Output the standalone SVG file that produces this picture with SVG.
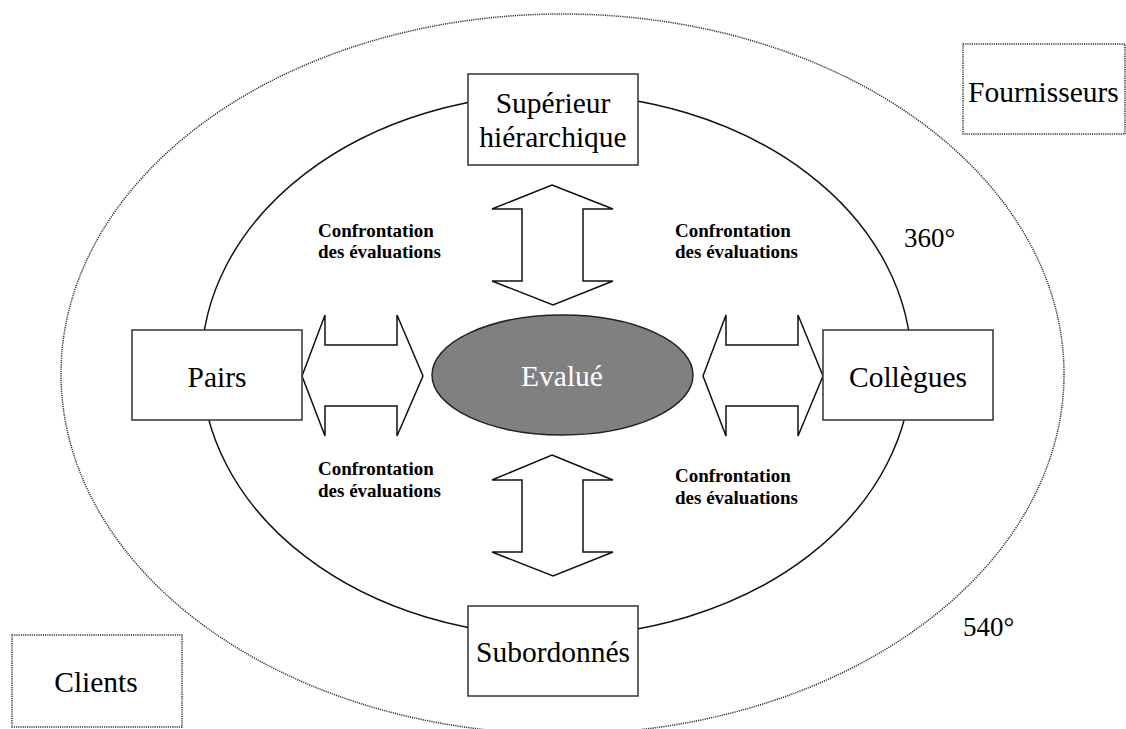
<svg xmlns="http://www.w3.org/2000/svg" width="1126" height="729" viewBox="0 0 1126 729">
<style>
.bg{fill:#ffffff}
.ring-outer{fill:none;stroke:#333;stroke-width:1.5;stroke-dasharray:1.2 1}
.ring-inner{fill:none;stroke:#111;stroke-width:1.5}
.box{fill:#fff;stroke:#333;stroke-width:1.5}
.dbox{fill:#fff;stroke:#333;stroke-width:1.5;stroke-dasharray:1.2 1}
.lbl{font-family:"Liberation Serif","Times New Roman",serif;font-size:29.5px;fill:#000;text-anchor:middle}
.deg{font-family:"Liberation Serif","Times New Roman",serif;font-size:27px;fill:#000}
.conf{font-family:"Liberation Serif","Times New Roman",serif;font-size:19px;font-weight:bold;fill:#000}
.arrow{fill:#fff;stroke:#111;stroke-width:1.5;stroke-linejoin:miter}
.center{fill:#808080;stroke:#222;stroke-width:1.5}
</style>
<rect class="bg" x="0" y="0" width="1126" height="729"/>
<ellipse class="ring-outer" cx="562.5" cy="374" rx="501.5" ry="360"/>
<ellipse class="ring-inner" cx="556.5" cy="365" rx="355" ry="271"/>
<g id="connectors">
<polygon class="arrow" points="552,185 613,209 583,209 583,281 613,281 553,305 492,281 522,281 522,209 492,209"/>
<polygon class="arrow" points="552,455 613,480 583,480 583,552 613,552 553,576 492,552 522,552 522,480 492,480"/>
<polygon class="arrow" points="302,376 325,315 325,345 397,345 397,315 423,376 397,436 397,406 325,406 325,436"/>
<polygon class="arrow" points="703,376 726,315 726,345 798,345 798,315 823,376 798,436 798,406 726,406 726,436"/>
</g>
<g id="superieur">
<rect class="box" x="468" y="74" width="170" height="91"/>
<text class="lbl" x="553" y="113">Supérieur</text>
<text class="lbl" x="553" y="147">hiérarchique</text>
</g>
<g id="pairs">
<rect class="box" x="132" y="330" width="170" height="90"/>
<text class="lbl" x="217" y="387">Pairs</text>
</g>
<g id="collegues">
<rect class="box" x="823" y="330" width="170" height="90"/>
<text class="lbl" x="908" y="387">Collègues</text>
</g>
<g id="subordonnes">
<rect class="box" x="468" y="606" width="170" height="90"/>
<text class="lbl" x="553" y="662">Subordonnés</text>
</g>
<g id="evalue">
<ellipse class="center" cx="562.5" cy="375" rx="130.5" ry="60"/>
<text class="lbl" x="562" y="386" style="fill:#fff">Evalué</text>
</g>
<g id="fournisseurs">
<rect class="dbox" x="963" y="44" width="162" height="90"/>
<text class="lbl" x="968" y="102" style="text-anchor:start">Fournisseurs</text>
</g>
<g id="clients">
<rect class="dbox" x="12" y="635" width="170" height="92"/>
<text class="lbl" x="96" y="692">Clients</text>
</g>
<g id="labels">
<text class="conf" x="318" y="237">Confrontation</text>
<text class="conf" x="318" y="258">des évaluations</text>
<text class="conf" x="675" y="237">Confrontation</text>
<text class="conf" x="675" y="258">des évaluations</text>
<text class="conf" x="318" y="475">Confrontation</text>
<text class="conf" x="318" y="497">des évaluations</text>
<text class="conf" x="675" y="482">Confrontation</text>
<text class="conf" x="675" y="504">des évaluations</text>
<text class="deg" x="904" y="247">360°</text>
<text class="deg" x="963" y="636">540°</text>
</g>
</svg>
